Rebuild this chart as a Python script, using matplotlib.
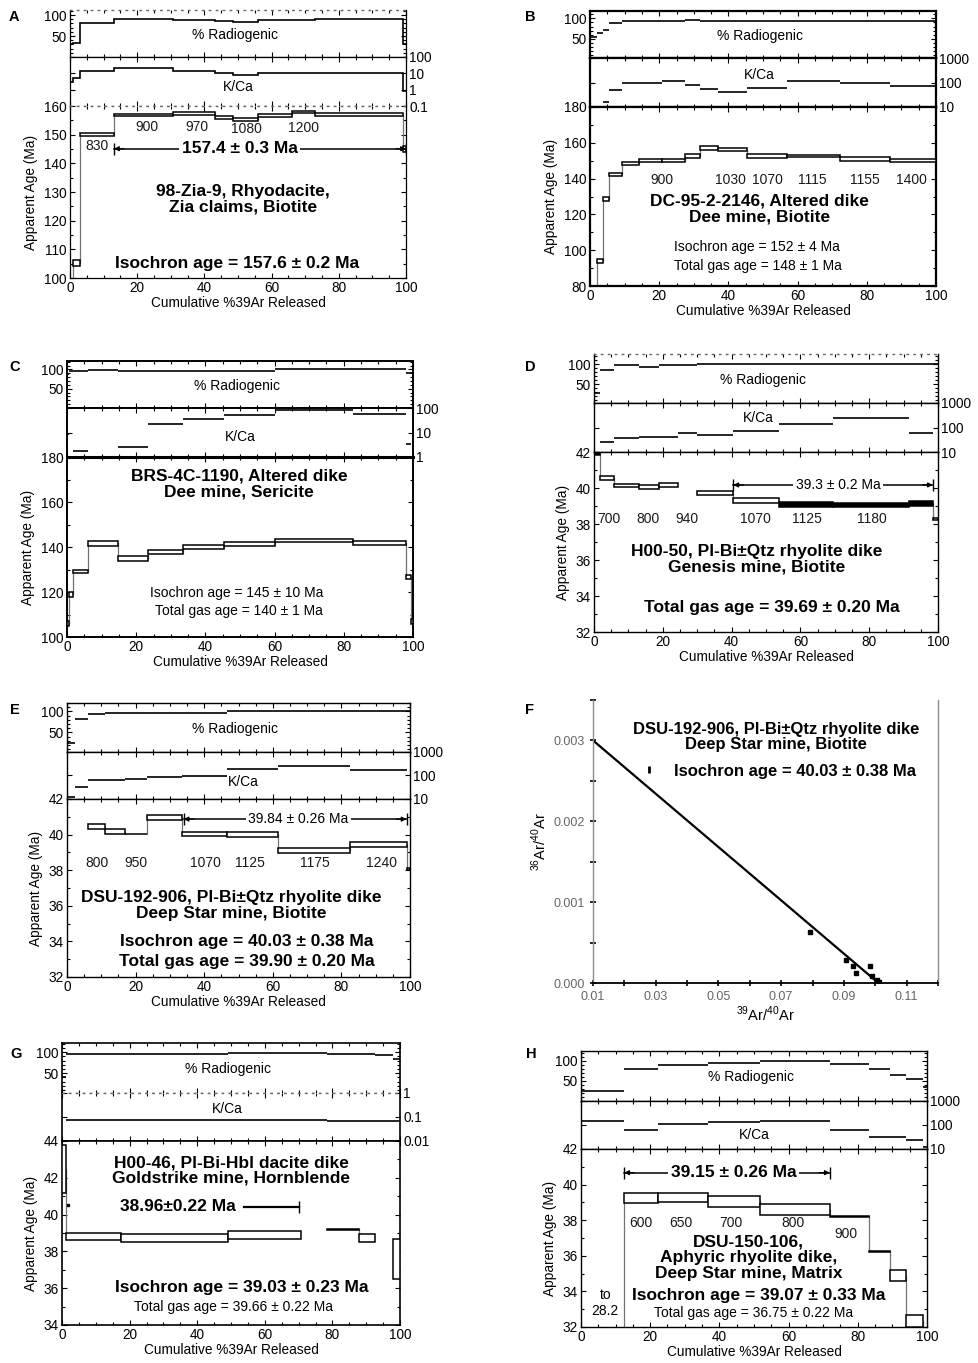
import numpy as np
import matplotlib
matplotlib.use('Agg')
import matplotlib.pyplot as plt
from matplotlib.patches import Rectangle
from matplotlib.ticker import (FixedLocator, FuncFormatter, MultipleLocator,
                               NullLocator)

plt.rcParams['font.family'] = ['Liberation Sans', 'DejaVu Sans']
plt.rcParams['mathtext.fontset'] = 'custom'
plt.rcParams['mathtext.rm'] = 'Liberation Sans'
plt.rcParams['font.size'] = 9

# ---- step-heating data: cumulative %39Ar step edges, age, 1-sigma, %rad, K/Ca
A_edges = [0, 0.8, 3.0, 13.1, 30.6, 43.2, 48.6, 56.1, 66.0, 72.9, 99.2, 100]
A_age = [95.0, 105.3, 150.0, 156.8, 157.4, 156.0, 155.4, 156.7, 158.0, 157.0, 145.0]
A_err = [2.0, 1.0, 0.6, 0.4, 0.4, 0.5, 0.5, 0.5, 0.4, 0.5, 1.0]
A_rad = [30, 33, 82, 90, 88, 86.5, 82.5, 88, 88, 90, 32]
A_kca = [3.0, 5.4, 14, 22, 14.6, 10, 7.9, 10, 10, 10, 0.8]
A_temps = ['830', '900', '970', '1080', '1200']
A_temp_pos = [(7.9, 146.2), (22.8, 152.6), (37.7, 152.8), (52.6, 151.9), (69.4, 152.3)]

B_edges = [0, 2.1, 3.9, 5.6, 9.2, 14.3, 20.9, 27.5, 31.8, 37.1, 45.3, 56.8,
           72.3, 86.7, 100]
B_age = [70, 94, 128.4, 142.4, 148.6, 150.2, 150.2, 152.6, 157.2, 156.2,
         152.6, 152.6, 150.7, 150.1]
B_err = [2, 1, 1.1, 0.9, 0.9, 0.9, 0.9, 1.0, 1.0, 0.9, 1.0, 0.8, 1.1, 0.9]
B_rad = [55, 64, 72, 89, 93.5, 93.5, 93.5, 97, 93.5, 93.5, 93.5, 93.5, 93.5, 93.5]
B_kca = [5, 5, 15.5, 49, 94, 94, 113, 78, 53.6, 40, 58.8, 110, 94, 73]
B_temps = ['900', '1030', '1070', '1115', '1155', '1400']
B_temp_pos = [(20.7, 139.4), (40.7, 139.4), (51.3, 139.4), (64.3, 139.4),
              (79.5, 139.4), (93.0, 139.4)]

C_edges = [0, 0.6, 1.8, 6.0, 14.6, 23.5, 33.5, 45.3, 60.0, 82.7, 97.9, 99.5, 100]
C_age = [106, 119, 129.3, 141.7, 135.0, 137.8, 140.0, 141.5, 142.8, 141.9, 126.7, 107]
C_err = [1, 1, 0.7, 1.1, 1.0, 0.9, 0.9, 0.9, 0.7, 0.9, 0.7, 1]
C_rad = [87, 95.7, 95.7, 97.4, 96.5, 96.5, 96.5, 96.5, 100, 100, 89.7, 89.7]
C_kca = [8.8, 0.5, 1.7, 0.5, 2.6, 23.2, 35.5, 52.3, 80, 57.6, 3.3, 0.5]

D_edges = [0, 1.7, 5.8, 13.0, 19.0, 24.5, 30.0, 40.5, 53.7, 69.5, 91.7, 98.5, 100]
D_age = [41.95, 40.57, 40.13, 40.03, 40.18, np.nan, 39.74, 39.30, 39.06, 39.05,
         39.16, 38.30]
D_err = [0.12, 0.10, 0.10, 0.11, 0.10, 0, 0.11, 0.13, 0.14, 0.10, 0.14, 0.05]
D_rad = [28, 85, 96.7, 93.4, 96.7, 96.7, 100, 100, 100, 100, 100, 100]
D_kca = [5, 24.6, 37.4, 42.6, 42.6, 60.7, 51.7, 71.3, 136, 234, 58.7, 5]
D_temps = ['700', '800', '940', '1070', '1125', '1180']
D_temp_pos = [(4.2, 38.28), (15.8, 38.28), (26.9, 38.28), (47.0, 38.28),
              (62.0, 38.28), (80.8, 38.28)]

E_edges = [0, 2.3, 6.1, 11.2, 16.8, 23.4, 33.5, 46.6, 61.6, 82.5, 99.2, 100]
E_age = [np.nan, np.nan, 40.45, 40.17, 40.03, 40.97, 40.05, 39.98, 39.13, 39.44, 38.05]
E_err = [0, 0, 0.14, 0.14, 0.02, 0.14, 0.12, 0.14, 0.14, 0.12, 0.05]
E_rad = [24.6, 81.7, 93.7, 96, 96, 96, 96, 100.5, 100.5, 100.5, 100]
E_kca = [12.6, 33.7, 65, 65, 74, 87.6, 93.7, 187, 259, 164, 5]
E_temps = ['800', '950', '1070', '1125', '1175', '1240']
E_temp_pos = [(8.7, 38.43), (20.2, 38.43), (40.3, 38.43), (53.2, 38.43),
              (72.3, 38.43), (91.7, 38.43)]

G_edges = [0, 1.3, 17.5, 49.0, 70.8, 78.5, 87.8, 92.7, 97.8, 100]
G_age = [42.5, 38.81, 38.71, 38.88, np.nan, 39.2, 38.73, np.nan, 37.6]
G_err = [1.3, 0.21, 0.22, 0.23, 0, 0.02, 0.23, 0, 1.1]
G_rad = [42, 96, 96, 98.4, 98.4, 96, 96, 92.7, 84]
G_kca = [0.005, 0.075, 0.075, 0.075, 0.075, 0.07, 0.07, 0.07, 0.07]

H_edges = [0, 12.5, 22.3, 36.7, 51.6, 71.9, 83.2, 89.3, 93.8, 98.7, 100]
H_age = [28.2, 39.24, 39.29, 39.06, 38.59, 38.23, 36.26, 34.89, 32.33, 31.0]
H_err = [0.5, 0.30, 0.25, 0.31, 0.30, 0.03, 0.03, 0.30, 0.33, 0.5]
H_rad = [24, 80.8, 89.2, 95.8, 99.2, 91.7, 79, 64, 54, 35]
H_kca = [150, 60.4, 108.5, 127.6, 150, 60.4, 31.4, 31.4, 23.4, 12.2]
H_temps = ['600', '650', '700', '800', '900']
H_temp_pos = [(17.3, 37.85), (29.0, 37.85), (43.2, 37.85), (61.2, 37.85), (76.7, 37.2)]
H_title = ['DSU-150-106,', 'Aphyric rhyolite dike,', 'Deep Star mine, Matrix']
H_title_y = [36.75, 35.88, 35.03]

# ---- isochron (panel F)
F_x = [0.0792, 0.0906, 0.0930, 0.0940, 0.0983, 0.0988, 0.1004, 0.1013]
F_y = [0.000625, 0.000288, 0.000214, 0.000123, 0.000205, 0.000082, 0.000033, 0.000016]
F_line_x = [0.01, 0.1010]
F_line_y = [0.0030, 0.0]

W, H = 979, 1363
fig = plt.figure(figsize=(W / 100, H / 100), dpi=100)

TICK = 9.8
LAB = 9.8
SMALL = 10
TITLE = 12.5
BIG = 12.5


def box(l, t, r, b):
    return [l / W, 1 - b / H, (r - l) / W, (b - t) / H]


def spectrum(frame, edges, age, err, rad, kca, rad_lim, age_lim, age_ticks,
             kca_lim, kca_ticks, kca_lab, stairs=False, dotted=(), solid=(),
             frame_lw=1.0):
    l, r, t, rb, kb, ab = frame
    ax_r = fig.add_axes(box(l, t, r, rb))
    ax_k = fig.add_axes(box(l, rb, r, kb))
    ax_a = fig.add_axes(box(l, kb, r, ab))
    edges = np.asarray(edges, float)
    age = np.asarray(age, float)
    err = np.asarray(err, float)

    for ax in (ax_r, ax_k, ax_a):
        ax.set_xlim(0, 100)
        ax.xaxis.set_major_locator(MultipleLocator(20))
        ax.xaxis.set_minor_locator(MultipleLocator(5))
        ax.tick_params(which='both', direction='in', top=True, right=True,
                       width=0.8, labelsize=TICK, pad=2.5)
        ax.tick_params(which='major', length=3.5)
        ax.tick_params(which='minor', length=2)
        for sp in ax.spines.values():
            sp.set_linewidth(frame_lw)
    ax_r.tick_params(labelbottom=False)
    ax_k.tick_params(labelbottom=False, labelleft=False, labelright=True)

    for name in dotted:
        if name == 'rad_top':
            pairs = [(ax_r, 'top')]
        elif name == 'kca_top':
            pairs = [(ax_r, 'bottom'), (ax_k, 'top')]
        else:
            pairs = [(ax_k, 'bottom'), (ax_a, 'top')]
        for ax, side in pairs:
            ax.spines[side].set_linestyle((0, (1, 4)))
            ax.spines[side].set_color('0.4')
            ax.spines[side].set_linewidth(1.0)

    # % radiogenic strip
    ax_r.set_ylim(*rad_lim)
    ax_r.set_yticks([50, 100])
    ax_r.yaxis.set_minor_locator(MultipleLocator(10))
    ax_r.text(0.49, 0.47, '% Radiogenic', transform=ax_r.transAxes,
              ha='center', va='center', fontsize=SMALL)

    # K/Ca strip, log scale labelled on the right
    ax_k.set_yscale('log')
    ax_k.set_ylim(*kca_lim)
    ax_k.yaxis.set_major_locator(FixedLocator(kca_ticks))
    ax_k.yaxis.set_major_formatter(FuncFormatter(lambda v, p: f'{v:g}'))
    ax_k.yaxis.set_minor_locator(NullLocator())
    ax_k.text(kca_lab[0], kca_lab[1], 'K/Ca', transform=ax_k.transAxes,
              ha='center', va='center', fontsize=SMALL)

    if stairs:
        ax_r.stairs(rad, edges, baseline=None, color='k', lw=1.2)
        ax_k.stairs(kca, edges, baseline=None, color='k', lw=1.2)
    else:
        ax_r.hlines(rad, edges[:-1], edges[1:], color='k', lw=1.2)
        ax_k.hlines(kca, edges[:-1], edges[1:], color='k', lw=1.2)

    # age spectrum boxes (2-sigma tall) with connectors
    ax_a.set_ylim(*age_lim)
    ax_a.set_yticks(age_ticks)
    ax_a.yaxis.set_minor_locator(MultipleLocator((age_ticks[1] - age_ticks[0]) / 2))
    for i in range(len(age)):
        if np.isnan(age[i]):
            continue
        x0, x1 = edges[i], edges[i + 1]
        ax_a.add_patch(Rectangle((x0, age[i] - err[i]), x1 - x0, 2 * err[i],
                                 fc='black' if i in solid else 'white',
                                 ec='black', lw=1.1, zorder=3))
        if i + 1 < len(age) and not np.isnan(age[i + 1]):
            ax_a.plot([x1, x1], [age[i], age[i + 1]], color='0.45', lw=0.9,
                      zorder=2)
    ax_a.set_xlabel('Cumulative %39Ar Released', fontsize=LAB, labelpad=0.5)
    ax_a.set_ylabel('Apparent Age (Ma)', fontsize=LAB, labelpad=4)
    return ax_r, ax_k, ax_a


def plateau(ax, x0, x1, y, label, xt, bold=True, size=BIG):
    ax.plot([x0, x1], [y, y], color='k', lw=1.1, zorder=4)
    ax.plot([x0, x1], [y, y], ls='none', marker='|', ms=8, mew=1.0,
            color='k', zorder=4)
    for xa, xb in ((x0, x0 + 3), (x1, x1 - 3)):
        ax.annotate('', xy=(xa, y), xytext=(xb, y), zorder=4,
                    arrowprops=dict(arrowstyle='-|>', color='k', lw=0.9,
                                    mutation_scale=7, shrinkA=0, shrinkB=0))
    ax.text(xt, y, label, ha='center', va='center', fontsize=size,
            weight='bold' if bold else 'normal', zorder=5,
            bbox=dict(fc='white', ec='none', pad=2))


def temps(ax, labels, pos, size=SMALL):
    for lab, (x, y) in zip(labels, pos):
        ax.text(x, y, lab, ha='center', va='center', fontsize=size, color='0.1')


def letter(x, y, s):
    fig.text(x / W, 1 - y / H, s, ha='center', va='center', fontsize=10.5,
             weight='bold')


# ---- A
_, _, ax = spectrum((70, 406, 10, 57, 106, 278), A_edges, A_age, A_err, A_rad,
                    A_kca, (0, 112), (100, 160), list(range(100, 161, 10)),
                    (0.1, 100), [0.1, 1, 10, 100], (0.5, 0.38), stairs=True,
                    dotted=('rad_top', 'age_top'), frame_lw=0.9)
temps(ax, A_temps, A_temp_pos)
plateau(ax, 13.1, 100, 145.1, '157.4 ± 0.3 Ma', 50.5)
ax.text(51.5, 127.5, '98-Zia-9, Rhyodacite,\nZia claims, Biotite', ha='center',
        va='center', fontsize=TITLE, weight='bold', linespacing=1.05)
ax.text(49.6, 105.2, 'Isochron age = 157.6 ± 0.2 Ma', ha='center', va='center',
        fontsize=BIG, weight='bold')
letter(14, 17, 'A')

# ---- B
_, _, ax = spectrum((590, 936, 11, 58, 107, 286), B_edges, B_age, B_err, B_rad,
                    B_kca, (3, 118), (80, 180), list(range(80, 181, 20)),
                    (10, 1000), [10, 100, 1000], (0.49, 0.66), frame_lw=1.6)
temps(ax, B_temps, B_temp_pos)
ax.text(49.1, 123.0, 'DC-95-2-2146, Altered dike\nDee mine, Biotite',
        ha='center', va='center', fontsize=TITLE, weight='bold', linespacing=1.05)
ax.text(48.2, 101.7, 'Isochron age = 152 ± 4 Ma', ha='center', va='center',
        fontsize=SMALL)
ax.text(48.5, 91.4, 'Total gas age = 148 ± 1 Ma', ha='center', va='center',
        fontsize=SMALL)
letter(530, 17, 'B')

# ---- C
_, _, ax = spectrum((67, 413, 361, 408, 457, 637), C_edges, C_age, C_err, C_rad,
                    C_kca, (0, 122), (100, 180), list(range(100, 181, 20)),
                    (1, 100), [1, 10, 100], (0.5, 0.41), frame_lw=1.4)
ax.spines['top'].set_linewidth(2.2)
ax.text(49.8, 168.1, 'BRS-4C-1190, Altered dike\nDee mine, Sericite',
        ha='center', va='center', fontsize=TITLE, weight='bold', linespacing=1.05)
ax.text(49.0, 119.6, 'Isochron age = 145 ± 10 Ma', ha='center', va='center',
        fontsize=SMALL)
ax.text(49.8, 111.6, 'Total gas age = 140 ± 1 Ma', ha='center', va='center',
        fontsize=SMALL)
letter(15, 367, 'C')

# ---- D
_, _, ax = spectrum((594, 938, 354, 403, 452, 632), D_edges, D_age, D_err, D_rad,
                    D_kca, (3, 125), (32, 42), list(range(32, 43, 2)),
                    (10, 1000), [10, 100, 1000], (0.477, 0.7),
                    dotted=('rad_top',), solid=(0, 8, 9, 10))
temps(ax, D_temps, D_temp_pos)
plateau(ax, 40.5, 98.5, 40.17, '39.3 ± 0.2 Ma', 71.0, bold=False, size=SMALL)
ax.text(47.2, 36.03, 'H00-50, Pl-Bi±Qtz rhyolite dike\nGenesis mine, Biotite',
        ha='center', va='center', fontsize=TITLE, weight='bold', linespacing=1.05)
ax.text(51.6, 33.34, 'Total gas age = 39.69 ± 0.20 Ma', ha='center',
        va='center', fontsize=BIG, weight='bold')
letter(530, 367, 'D')

# ---- E
_, _, ax = spectrum((67, 410, 703, 752, 799, 977), E_edges, E_age, E_err, E_rad,
                    E_kca, (3, 120), (32, 42), list(range(32, 43, 2)),
                    (10, 1000), [10, 100, 1000], (0.515, 0.37))
temps(ax, E_temps, E_temp_pos)
plateau(ax, 34.0, 99.0, 40.87, '39.84 ± 0.26 Ma', 67.5, bold=False, size=SMALL)
ax.text(47.9, 36.0, 'DSU-192-906, Pl-Bi±Qtz rhyolite dike\nDeep Star mine, Biotite',
        ha='center', va='center', fontsize=TITLE, weight='bold', linespacing=1.05)
ax.text(52.4, 34.0, 'Isochron age = 40.03 ± 0.38 Ma', ha='center', va='center',
        fontsize=BIG, weight='bold')
ax.text(52.4, 32.88, 'Total gas age = 39.90 ± 0.20 Ma', ha='center',
        va='center', fontsize=BIG, weight='bold')
letter(15, 710, 'E')

# ---- F: inverse isochron
axf = fig.add_axes(box(593, 700, 938, 983))
axf.set_xlim(0.01, 0.12)
axf.set_ylim(0, 0.0035)
axf.spines['top'].set_visible(False)
for side in ('left', 'right'):
    axf.spines[side].set_color('0.55')
    axf.spines[side].set_linewidth(1.0)
axf.spines['bottom'].set_linewidth(1.3)
axf.set_xticks(np.arange(0.01, 0.111, 0.02))
axf.xaxis.set_minor_locator(MultipleLocator(0.01))
axf.xaxis.set_major_formatter(FuncFormatter(lambda v, p: f'{v:.2f}'))
axf.set_yticks([0, 0.001, 0.002, 0.003])
axf.yaxis.set_major_formatter(FuncFormatter(lambda v, p: f'{v:.3f}'))
axf.yaxis.set_minor_locator(MultipleLocator(0.0005))
axf.tick_params(which='both', direction='inout', labelcolor='0.4', labelsize=9,
                width=1.2)
axf.tick_params(which='major', length=5)
axf.tick_params(which='minor', length=4)
axf.plot(F_line_x, F_line_y, color='k', lw=1.6)
axf.plot(F_x, F_y, 's', color='k', ms=2.5)
axf.errorbar([0.0279], [0.00264], yerr=[0.00004], fmt='none', ecolor='k',
             elinewidth=2, capsize=0)
axf.set_xlabel(r'$^{39}$Ar/$^{40}$Ar', fontsize=10.5, labelpad=1)
axf.set_ylabel(r'$^{36}$Ar/$^{40}$Ar', fontsize=10.5, labelpad=3)
axf.text(0.0683, 0.00304, 'DSU-192-906, Pl-Bi±Qtz rhyolite dike\nDeep Star mine, Biotite',
         ha='center', va='center', fontsize=12, weight='bold', linespacing=1.05)
axf.text(0.0744, 0.00262, 'Isochron age = 40.03 ± 0.38 Ma', ha='center',
         va='center', fontsize=12, weight='bold')
letter(530, 710, 'F')

# ---- G
_, _, ax = spectrum((62, 400, 1043, 1093, 1141, 1325), G_edges, G_age, G_err,
                    G_rad, G_kca, (3, 122), (34, 44), list(range(34, 45, 2)),
                    (0.01, 1), [0.01, 0.1, 1], (0.49, 0.66),
                    dotted=('kca_top',), frame_lw=1.2)
ax.plot([53.9, 70.2], [40.42, 40.42], color='k', lw=1.6)
ax.plot([70.2], [40.42], ls='none', marker='|', ms=8, mew=1.0, color='k')
ax.plot([1.8], [40.5], ls='none', marker='s', ms=2, color='k')
ax.text(34.4, 40.42, '38.96±0.22 Ma', ha='center', va='center', fontsize=BIG,
        weight='bold')
ax.text(50.1, 42.4, 'H00-46, Pl-Bi-Hbl dacite dike\nGoldstrike mine, Hornblende',
        ha='center', va='center', fontsize=TITLE, weight='bold', linespacing=1.05)
ax.text(53.3, 36.05, 'Isochron age = 39.03 ± 0.23 Ma', ha='center',
        va='center', fontsize=BIG, weight='bold')
ax.text(50.6, 35.0, 'Total gas age = 39.66 ± 0.22 Ma', ha='center', va='center',
        fontsize=SMALL)
letter(16, 1054, 'G')

# ---- H
_, _, ax = spectrum((581, 927, 1051, 1101, 1149, 1327), H_edges, H_age, H_err,
                    H_rad, H_kca, (0, 125), (32, 42), list(range(32, 43, 2)),
                    (10, 1000), [10, 100, 1000], (0.5, 0.3))
temps(ax, H_temps, H_temp_pos)
plateau(ax, 12.5, 71.9, 40.67, '39.15 ± 0.26 Ma', 44.1)
ax.text(7.0, 33.35, 'to\n28.2', ha='center', va='center', fontsize=SMALL,
        linespacing=1.2)
for line, y in zip(H_title, H_title_y):
    ax.text(48.5, y, line, ha='center', va='center', fontsize=TITLE,
            weight='bold')
ax.text(51.3, 33.78, 'Isochron age = 39.07 ± 0.33 Ma', ha='center',
        va='center', fontsize=BIG, weight='bold')
ax.text(49.9, 32.8, 'Total gas age = 36.75 ± 0.22 Ma', ha='center', va='center',
        fontsize=SMALL)
letter(531, 1054, 'H')

fig.savefig('out.png', dpi=100, facecolor='white')
